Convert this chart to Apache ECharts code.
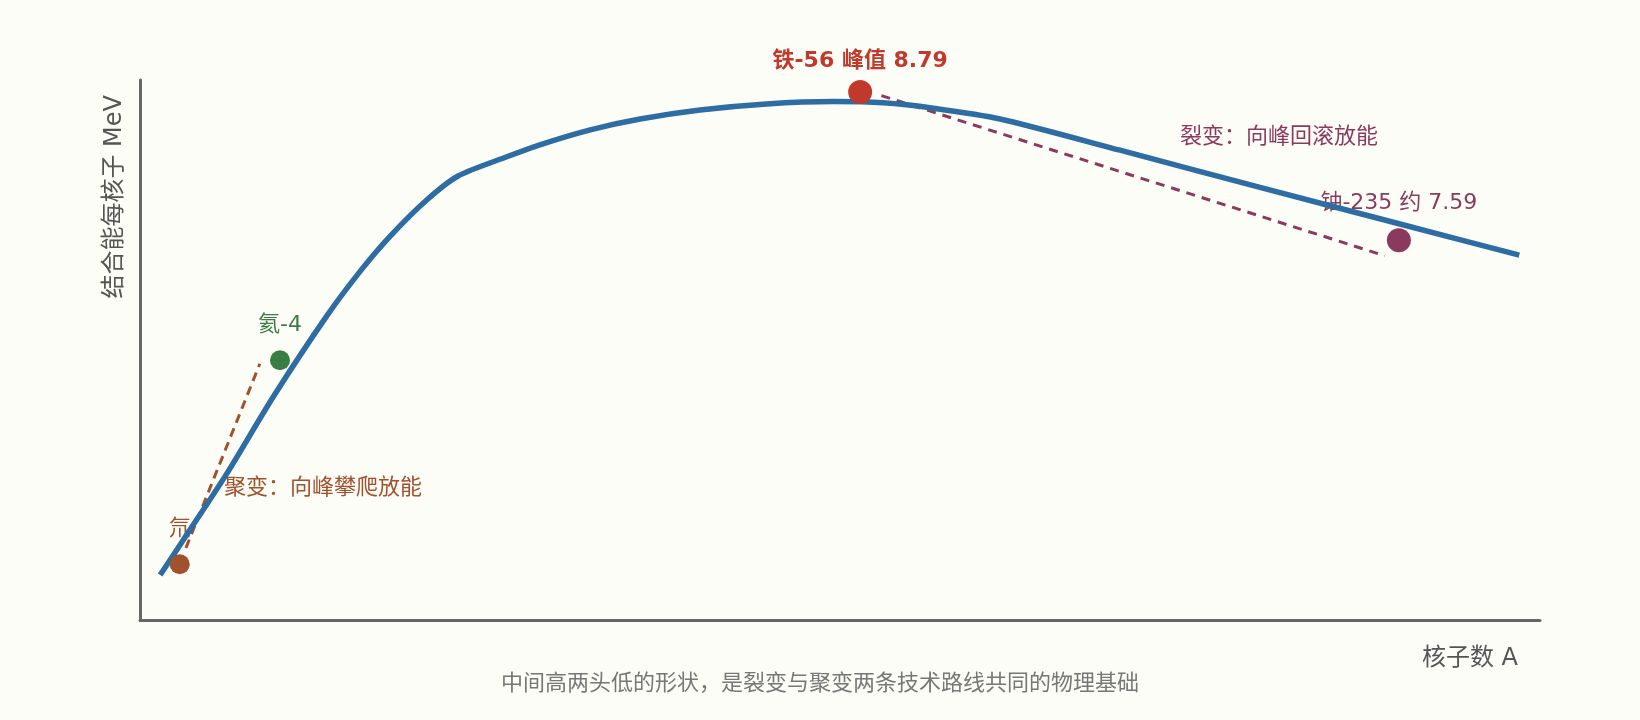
<!DOCTYPE html>
<html lang="zh">
  <head>
    <meta charset="UTF-8" />
    <title>结合能曲线</title>
    <script src="https://cdn.jsdelivr.net/npm/echarts@6.0.0/dist/echarts.min.js"></script>
    <style>
      html, body { margin: 0; padding: 0; background: #fdfdf8; }
    </style>
  </head>
  <body>
    <div id="main" style="width: 1640px; height: 720px"></div>
    <script type="text/javascript">
      // curve of binding energy per nucleon
      const curveA = [3.6, 7.7, 15.5, 23.8, 33.3, 39.3, 44.6, 51.2, 56.8, 65.5, 71.4, 80.4, 89.3, 100, 111.9, 123.8, 132.7, 141.7, 153.6, 175, 200, 225, 246.3];
      const curveBE = [0.75, 1.33, 2.44, 3.72, 5.06, 5.81, 6.39, 7.0, 7.4, 7.72, 7.92, 8.17, 8.35, 8.5, 8.6, 8.64, 8.62, 8.53, 8.35, 7.83, 7.21, 6.6, 6.08];

      // marked nuclei
      const pointNames = ["氘", "氦-4", "铁-56 峰值 8.79", "铀-235 约 7.59"];
      const pointA = [7.1, 25.0, 128.6, 224.8];
      const pointBE = [0.93, 4.33, 8.8, 6.33];

      // dashed guide lines
      const fusionA = [8.2, 21.4];
      const fusionBE = [1.2, 4.27];
      const fissionA = [132.4, 222.3];
      const fissionBE = [8.74, 6.07];

      // notes
      const noteTexts = ["聚变：向峰攀爬放能", "裂变：向峰回滚放能"];
      const noteA = [15, 185.7];
      const noteBE = [2.2, 8.05];

      const FONT = "'DejaVu Sans', 'Noto Sans CJK SC', sans-serif";
      const pointColors = ["#a0522d", "#3a7d44", "#c0392b", "#8b3a5e"];
      const pointSizes = [20, 20, 24, 24];
      const labelGaps = [14, 14, 8, 14];
      const noteColors = ["#a0522d", "#8b3a5e"];

      const zip = (xs, ys) => xs.map((x, i) => [x, ys[i]]);

      const pointData = pointA.map((a, i) => ({
        value: [a, pointBE[i]],
        symbolSize: pointSizes[i],
        itemStyle: { color: pointColors[i], opacity: 1 },
      }));

      const pointLabelData = pointA.map((a, i) => ({
        value: [a, pointBE[i]],
        label: {
          show: true,
          position: "top",
          distance: labelGaps[i] + pointSizes[i] / 2,
          formatter: pointNames[i],
          color: pointColors[i],
          fontSize: 22,
          fontWeight: i === 2 ? "bold" : "normal",
          fontFamily: FONT,
        },
      }));

      const noteData = noteA.map((a, i) => ({
        value: [a, noteBE[i]],
        label: {
          show: true,
          position: [0, 0],
          align: "left",
          verticalAlign: "middle",
          formatter: noteTexts[i],
          color: noteColors[i],
          fontSize: 22,
          fontFamily: FONT,
        },
      }));

      const axisLine = { show: true, lineStyle: { color: "#666", width: 3 } };

      let options = {
        backgroundColor: "#fdfdf8",
        animation: false,
        textStyle: { fontFamily: FONT },
        title: {
          text: "中间高两头低的形状，是裂变与聚变两条技术路线共同的物理基础",
          left: "center",
          top: 668,
          textStyle: { fontSize: 22, fontWeight: "normal", color: "#777", fontFamily: FONT },
        },
        grid: { left: 140, right: 100, top: 80, bottom: 100 },
        xAxis: {
          type: "value",
          min: 0,
          max: 250,
          name: "核子数 A",
          nameLocation: "end",
          nameGap: -22,
          nameTextStyle: {
            fontSize: 24, color: "#555", align: "right", verticalAlign: "top",
            padding: [27, 0, 0, 0], fontFamily: FONT,
          },
          axisLine: axisLine,
          axisTick: { show: false },
          axisLabel: { show: false },
          splitLine: { show: false },
        },
        yAxis: {
          type: "value",
          min: 0,
          max: 9,
          name: "结合能每核子 MeV",
          nameLocation: "end",
          nameRotate: 90,
          nameGap: -15,
          nameTextStyle: {
            fontSize: 24, color: "#555", align: "right", verticalAlign: "bottom",
            padding: [0, 0, 13, 0], fontFamily: FONT,
          },
          axisLine: axisLine,
          axisTick: { show: false },
          axisLabel: { show: false },
          splitLine: { show: false },
        },
        series: [
          {
            type: "scatter",
            z: 1,
            symbolSize: 0,
            silent: true,
            itemStyle: { opacity: 1 },
            data: pointLabelData.concat(noteData),
          },
          {
            type: "line",
            z: 2,
            data: zip(fusionA, fusionBE),
            showSymbol: false,
            lineStyle: { color: "#a0522d", width: 3, type: [9, 6] },
          },
          {
            type: "line",
            z: 2,
            data: zip(fissionA, fissionBE),
            showSymbol: false,
            lineStyle: { color: "#8b3a5e", width: 3, type: [9, 7] },
          },
          {
            type: "line",
            z: 3,
            data: zip(curveA, curveBE),
            smooth: 0.25,
            showSymbol: false,
            lineStyle: { color: "#2e6ca4", width: 5.5 },
          },
          {
            type: "scatter",
            z: 4,
            itemStyle: { opacity: 1 },
            data: pointData,
          },
        ],
      };

      let myChart = echarts.init(document.getElementById("main"));
      myChart.setOption(options);
    </script>
  </body>
</html>
